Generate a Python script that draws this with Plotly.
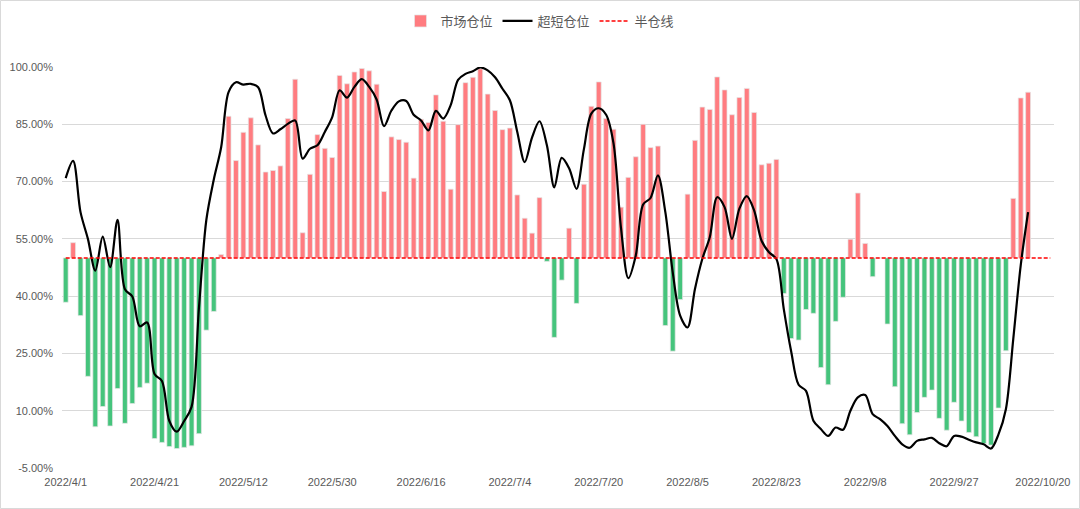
import plotly.graph_objects as go

# ---- categories: trading days 2022/4/1 .. 2022/10/21 ----
TRADING_DAYS = {
    4: [1, 6, 7, 8, 11, 12, 13, 14, 15, 18, 19, 20, 21, 22, 25, 26, 27, 28, 29],
    5: [5, 6, 9, 10, 11, 12, 13, 16, 17, 18, 19, 20, 23, 24, 25, 26, 27, 30, 31],
    6: [1, 2, 6, 7, 8, 9, 10, 13, 14, 15, 16, 17, 20, 21, 22, 23, 24, 27, 28, 29, 30],
    7: [1, 4, 5, 6, 7, 8, 11, 12, 13, 14, 15, 18, 19, 20, 21, 22, 25, 26, 27, 28, 29],
    8: [1, 2, 3, 4, 5, 8, 9, 10, 11, 12, 15, 16, 17, 18, 19, 22, 23, 24, 25, 26, 29, 30, 31],
    9: [1, 2, 5, 6, 7, 8, 9, 13, 14, 15, 16, 19, 20, 21, 22, 23, 26, 27, 28, 29, 30],
    10: [10, 11, 12, 13, 14, 17, 18, 19, 20, 21],
}
dates = [f"2022/{m}/{d}" for m, days in TRADING_DAYS.items() for d in days]

# ---- series values (%) ----
market = [
    38.4, 54.0, 34.9, 19.0, 5.8, 11.1, 6.0, 15.8, 6.7, 11.9,
    16.1, 17.2, 2.7, 1.7, 0.6, 0.1, 0.4, 0.8, 4.0, 31.1,
    36.0, 50.9, 87.1, 75.5, 82.9, 86.7, 79.6, 72.5, 72.9, 74.1,
    86.5, 96.8, 56.6, 71.9, 82.3, 78.7, 76.3, 97.8, 95.6, 98.7,
    99.6, 99.0, 95.5, 67.4, 81.7, 81.0, 80.3, 70.9, 86.3, 85.5,
    92.7, 85.8, 68.0, 84.9, 95.9, 97.3, 99.5, 92.9, 88.6, 83.6,
    84.0, 66.5, 60.4, 56.5, 65.8, 49.1, 29.2, 44.2, 57.8, 38.1,
    69.3, 89.7, 96.1, 86.5, 83.7, 63.3, 71.1, 76.5, 85.0, 78.9,
    79.3, 32.3, 25.6, 39.1, 66.7, 80.8, 89.5, 88.9, 97.4, 94.0,
    87.5, 92.0, 94.4, 88.1, 74.4, 74.8, 75.8, 40.7, 28.9, 28.5,
    36.5, 35.5, 21.3, 16.8, 33.4, 39.7, 54.9, 67.0, 53.8, 45.1,
    50.0, 32.7, 16.3, 6.6, 3.7, 9.5, 13.5, 15.4, 8.0, 4.9,
    12.2, 7.3, 4.3, 3.2, 1.4, 1.0, 10.7, 25.7, 65.6, 91.9,
    93.4,
]
short = [
    70.9, 75.4, 62.0, 55.0, 46.7, 55.6, 47.6, 60.0, 41.8, 39.9,
    32.1, 33.1, 19.6, 17.8, 7.3, 4.5, 7.3, 11.0, 37.0, 60.0,
    70.5, 79.0, 93.4, 96.0, 95.4, 95.6, 94.7, 87.3, 82.6, 83.7,
    85.1, 86.0, 76.0, 78.6, 79.5, 83.0, 86.9, 93.9, 92.0, 94.8,
    96.8, 94.8, 91.5, 84.5, 88.6, 91.0, 91.1, 87.5, 86.0, 83.4,
    88.5, 86.5, 90.0, 96.6, 98.2, 98.9, 99.9, 99.1, 97.3, 94.3,
    91.3, 83.0, 75.1, 81.6, 85.8, 79.5, 68.5, 76.2, 73.5, 68.1,
    78.5, 87.8, 89.2, 87.5, 80.0, 58.0, 44.7, 50.6, 64.0, 65.7,
    71.6, 62.0, 46.2, 34.9, 31.8, 41.9, 49.8, 55.4, 65.9, 63.3,
    55.0, 62.9, 66.2, 62.4, 54.5, 51.5, 49.7, 36.6, 25.5, 16.8,
    15.2, 7.4, 5.2, 3.4, 5.6, 5.0, 10.0, 13.5, 14.1, 9.1,
    7.8, 6.0, 3.4, 1.2, 0.3, 2.1, 2.5, 2.9, 1.5, 0.7,
    3.4, 3.2, 2.4, 1.7, 1.2, 0.1, 3.8, 10.4, 28.8, 48.0,
    62.0,
]
HALF = 50.0
y_ticks = [-5, 10, 25, 40, 55, 70, 85, 100]

RED = "#FF7C80"
GREEN = "#45C47C"
TXT = "#595959"
FONT = "Noto Sans CJK SC"

n = len(dates)
x_m = dates[:len(market)]
up_x = [d for d, v in zip(x_m, market) if v >= HALF]
up_y = [v - HALF for v in market if v >= HALF]
dn_x = [d for d, v in zip(x_m, market) if v < HALF]
dn_y = [v - HALF for v in market if v < HALF]

fig = go.Figure()
bar_line = dict(color="rgba(230,230,230,0.9)", width=0.8)
fig.add_trace(go.Bar(x=up_x, y=up_y, base=HALF, name="市场仓位",
                     marker=dict(color=RED, line=bar_line), width=0.66))
fig.add_trace(go.Bar(x=dn_x, y=dn_y, base=HALF, name="市场仓位", showlegend=False,
                     marker=dict(color=GREEN, line=bar_line), width=0.66))
fig.add_trace(go.Scatter(x=dates[:len(short)], y=short, name="超短仓位", mode="lines",
                         line=dict(color="#000000", width=2.2, shape="spline", smoothing=0.9)))
fig.add_trace(go.Scatter(x=dates, y=[HALF] * n, name="半仓线", mode="lines",
                         line=dict(color="#FF0000", width=1.5, dash="4px,2px")))

L, R, T, B = 62, 26, 67, 41
W, H = 1080, 509
pw, ph = W - L - R, H - T - B

fig.update_layout(
    width=W, height=H,
    margin=dict(l=L, r=R, t=T, b=B, autoexpand=False),
    paper_bgcolor="white", plot_bgcolor="white",
    barmode="overlay",
    font=dict(family=FONT, size=11, color=TXT),
    legend=dict(orientation="h", x=0.5, xanchor="center", xref="container",
                y=1 - 21 / H, yanchor="middle", yref="container",
                font=dict(size=13, color=TXT, family=FONT), itemwidth=30, tracegroupgap=0,
                bgcolor="rgba(0,0,0,0)"),
    xaxis=dict(type="category", categoryorder="array", categoryarray=dates,
               range=[-0.5, n - 0.5], tickmode="array", tickvals=dates[::12], ticktext=dates[::12],
               showgrid=False, showline=False, ticks="", zeroline=False, ticklabelstandoff=6,
               tickfont=dict(family="Liberation Sans", size=11, color=TXT)),
    yaxis=dict(range=[-5, 100], tickmode="array", tickvals=y_ticks,
               ticktext=[f"{v:.2f}%" for v in y_ticks],
               showgrid=True, gridcolor="#D9D9D9", gridwidth=1, zeroline=False, showline=False,
               ticks="", ticklabelstandoff=8,
               tickfont=dict(family="Liberation Sans", size=11, color=TXT)),
    shapes=[dict(type="rect", xref="paper", yref="paper",
                 x0=(0.5 - L) / pw, x1=(W - 0.5 - L) / pw,
                 y0=-(B - 0.5) / ph, y1=(H - B - 0.5) / ph,
                 line=dict(color="#D9D9D9", width=1), fillcolor="rgba(0,0,0,0)", layer="below")],
)

fig.write_html("out.html", config={"displayModeBar": False},
               post_script="document.body.style.margin='0';document.body.style.overflow='hidden';")
